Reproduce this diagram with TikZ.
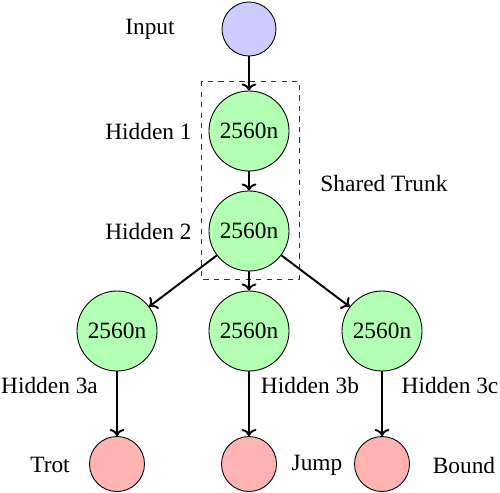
\documentclass[tikz,border=0pt]{standalone}
\usepackage{fontspec}
\setmainfont{Liberation Serif}
\definecolor{inblue}{RGB}{204, 204, 255}
\definecolor{hidgreen}{RGB}{179, 255, 179}
\definecolor{outred}{RGB}{255, 179, 179}
\usepackage{tikz}
\usetikzlibrary{arrows.meta, positioning}
\tikzset{
  neuron/.style={circle, draw, semithin, inner sep=0pt},
  semithin/.style={line width=0.5pt},
  inneuron/.style={neuron, fill=inblue, minimum size=1.08cm},
  hidneuron/.style={neuron, fill=hidgreen, minimum size=1.6cm},
  outneuron/.style={neuron, fill=outred, minimum size=1.1cm},
  link/.style={-To, line width=1.1pt},
  lbl/.style={inner sep=0pt}
}

\begin{document}
\begin{tikzpicture}[font=\fontsize{13.3}{15}\selectfont]
  \useasboundingbox (0,0) rectangle (10,-9.84);

  % Input
  \node[inneuron] (in) at (4.98,-0.58) {};
  \node[lbl] (inlbl) at (3.0,-0.58) {Input};

  % Shared trunk
  \node[hidneuron] (h1) at (4.98,-2.62) {2560n};
  \node[hidneuron] (h2) at (4.98,-4.62) {2560n};
  \node[lbl] (h1lbl) at (2.97,-2.62) {Hidden 1};
  \node[lbl] (h2lbl) at (2.97,-4.62) {Hidden 2};
  \draw[dashed, semithin, black!80] (4.02,-1.62) rectangle (5.98,-5.58);
  \node[lbl] (trunk) at (7.68,-3.66) {Shared Trunk};

  % Heads
  \node[hidneuron] (h3a) at (2.34,-6.62) {2560n};
  \node[hidneuron] (h3b) at (4.98,-6.62) {2560n};
  \node[hidneuron] (h3c) at (7.64,-6.62) {2560n};
  \node[lbl] (h3albl) at (0.99,-7.7) {Hidden 3a};
  \node[lbl] (h3blbl) at (6.2,-7.7) {Hidden 3b};
  \node[lbl] (h3clbl) at (9.0,-7.7) {Hidden 3c};

  % Outputs
  \node[outneuron] (trot) at (2.34,-9.28) {};
  \node[outneuron] (jump) at (4.98,-9.28) {};
  \node[outneuron] (bound) at (7.64,-9.28) {};
  \node[lbl] (trotlbl) at (1.0,-9.3) {Trot};
  \node[lbl] (jumplbl) at (6.34,-9.3) {Jump};
  \node[lbl] (boundlbl) at (9.28,-9.3) {Bound};

  % Connections
  \draw[link] (in) -- (h1);
  \draw[link] (h1) -- (h2);
  \draw[link] (h2) -- (h3a);
  \draw[link] (h2) -- (h3b);
  \draw[link] (h2) -- (h3c);
  \draw[link] (h3a) -- (trot);
  \draw[link] (h3b) -- (jump);
  \draw[link] (h3c) -- (bound);
\end{tikzpicture}
\end{document}
